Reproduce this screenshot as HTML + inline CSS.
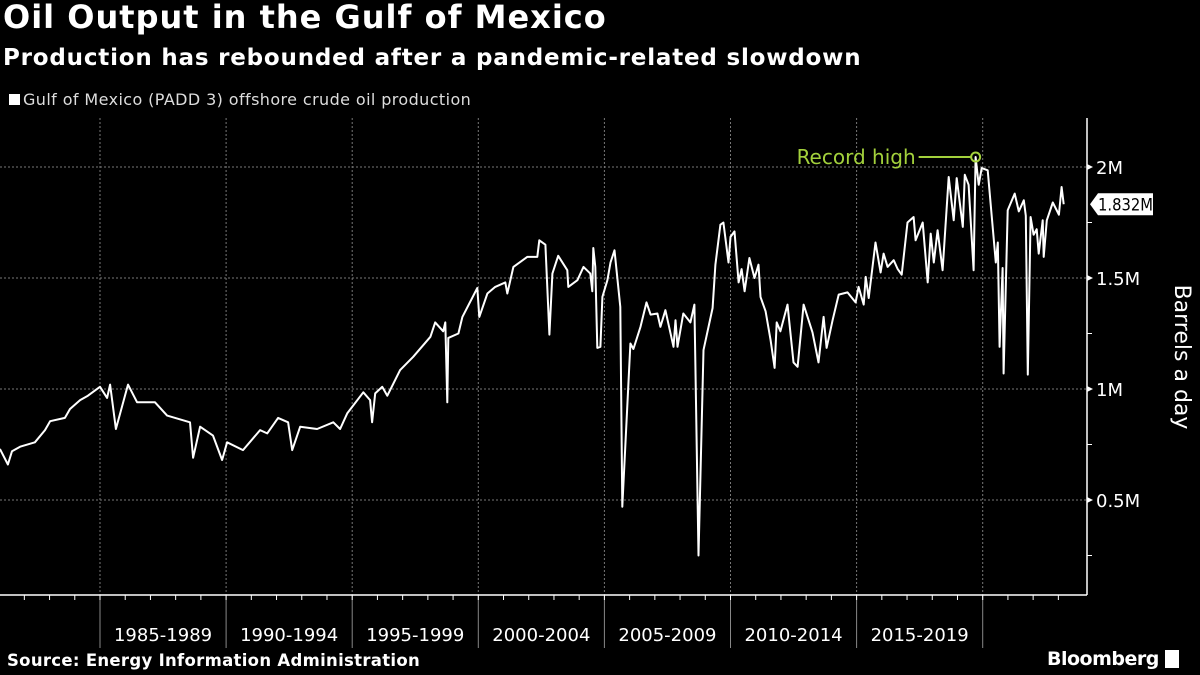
<!DOCTYPE html>
<html><head><meta charset="utf-8"><style>
html,body{margin:0;padding:0;background:#000;}
body{width:1200px;height:675px;overflow:hidden;position:relative;font-family:"DejaVu Sans","Liberation Sans",sans-serif;color:#fff;}
.t{position:absolute;white-space:nowrap;}
</style></head><body>
<div class="t" style="left:3px;top:-2px;font-size:32px;font-weight:bold;letter-spacing:1px;">Oil Output in the Gulf of Mexico</div>
<div class="t" style="left:3px;top:45px;font-size:23px;font-weight:bold;letter-spacing:0.8px;">Production has rebounded after a pandemic-related slowdown</div>
<div class="t" style="left:9px;top:90px;font-size:16px;letter-spacing:0.4px;color:#ddd;"><span style="display:inline-block;width:11px;height:11px;background:#fff;margin-right:3px;"></span>Gulf of Mexico (PADD 3) offshore crude oil production</div>
<div class="t" style="left:7px;top:651px;font-size:16.5px;font-weight:bold;letter-spacing:0.3px;">Source: Energy Information Administration</div>
<div class="t" style="left:1047px;top:648px;font-size:19px;font-weight:bold;letter-spacing:-0.5px;">Bloomberg <span style="display:inline-block;width:14px;height:18px;background:#fff;vertical-align:-3px;"></span></div>
<svg id="chart" width="1200" height="675" style="position:absolute;left:0;top:0;"></svg>
<script>
const years=[1981.03,1981.35,1981.51,1981.83,1982.42,1982.82,1983.02,1983.61,1983.81,1984.21,1984.52,1985.0,1985.28,1985.40,1985.63,1986.11,1986.47,1987.18,1987.66,1988.57,1988.69,1988.97,1989.48,1989.84,1990.04,1990.67,1991.35,1991.63,1992.06,1992.46,1992.62,1992.94,1993.61,1994.25,1994.52,1994.80,1995.44,1995.71,1995.79,1995.91,1996.19,1996.39,1996.90,1997.42,1998.10,1998.29,1998.61,1998.69,1998.77,1998.81,1999.21,1999.37,1999.96,2000.04,2000.36,2000.67,2001.07,2001.15,2001.39,2001.94,2002.34,2002.42,2002.66,2002.82,2002.94,2003.17,2003.53,2003.57,2003.93,2004.17,2004.44,2004.52,2004.56,2004.64,2004.72,2004.84,2004.92,2005.12,2005.24,2005.40,2005.63,2005.71,2006.03,2006.15,2006.43,2006.67,2006.83,2007.10,2007.22,2007.42,2007.74,2007.82,2007.90,2008.13,2008.41,2008.57,2008.73,2008.93,2009.29,2009.40,2009.60,2009.72,2009.92,2010.00,2010.16,2010.32,2010.44,2010.56,2010.75,2010.95,2011.11,2011.19,2011.39,2011.59,2011.75,2011.83,2011.98,2012.26,2012.50,2012.66,2012.90,2013.25,2013.49,2013.69,2013.81,2014.05,2014.29,2014.64,2014.96,2015.08,2015.28,2015.36,2015.48,2015.75,2015.95,2016.07,2016.23,2016.47,2016.63,2016.79,2017.02,2017.26,2017.34,2017.62,2017.82,2017.94,2018.06,2018.21,2018.41,2018.65,2018.85,2018.97,2019.21,2019.29,2019.44,2019.64,2019.72,2019.84,2019.96,2020.20,2020.52,2020.60,2020.67,2020.79,2020.83,2020.99,2021.27,2021.43,2021.63,2021.71,2021.79,2021.90,2022.02,2022.14,2022.22,2022.38,2022.42,2022.54,2022.78,2023.02,2023.13,2023.21];
const production=[0.73,0.66,0.72,0.74,0.76,0.815,0.855,0.87,0.91,0.95,0.97,1.01,0.96,1.02,0.82,1.02,0.94,0.94,0.88,0.85,0.69,0.83,0.79,0.68,0.76,0.725,0.815,0.80,0.87,0.85,0.725,0.83,0.82,0.85,0.82,0.89,0.985,0.95,0.85,0.98,1.01,0.97,1.085,1.145,1.235,1.30,1.26,1.30,0.94,1.23,1.25,1.325,1.455,1.325,1.43,1.46,1.48,1.43,1.55,1.595,1.595,1.67,1.65,1.245,1.52,1.60,1.535,1.46,1.49,1.55,1.52,1.44,1.635,1.55,1.185,1.19,1.415,1.49,1.57,1.625,1.37,0.47,1.205,1.18,1.28,1.39,1.335,1.34,1.28,1.355,1.19,1.31,1.19,1.34,1.30,1.38,0.25,1.175,1.365,1.56,1.74,1.75,1.57,1.685,1.71,1.48,1.54,1.44,1.59,1.50,1.56,1.415,1.35,1.22,1.095,1.30,1.26,1.38,1.12,1.10,1.38,1.255,1.12,1.325,1.185,1.31,1.425,1.435,1.39,1.46,1.38,1.505,1.41,1.66,1.525,1.61,1.55,1.58,1.54,1.515,1.75,1.775,1.67,1.75,1.48,1.70,1.57,1.715,1.535,1.955,1.76,1.95,1.73,1.965,1.92,1.535,2.045,1.92,1.995,1.985,1.57,1.66,1.19,1.545,1.07,1.805,1.88,1.80,1.85,1.78,1.065,1.775,1.695,1.72,1.61,1.76,1.595,1.76,1.84,1.785,1.91,1.832];
const yTicks=[0.5,1,1.5,2];
const yTickLabels=["0.5M","1M","1.5M","2M"];
const periods=["1985-1989","1990-1994","1995-1999","2000-2004","2005-2009","2010-2014","2015-2019"];
const periodStarts=[1985,1990,1995,2000,2005,2010,2015,2020];
const lastLabel="1.832M";
const recordIndex=production.indexOf(Math.max(...production));

const X0=100,Y0year=1985,PX=25.22;
const xs=y=>X0+(y-Y0year)*PX;
const ys=v=>611-v*222;
const svg=document.getElementById('chart');
const NS='http://www.w3.org/2000/svg';
const FONT='DejaVu Sans, Liberation Sans, sans-serif';
function mk(tag,attrs){const e=document.createElementNS(NS,tag);for(const k in attrs)e.setAttribute(k,attrs[k]);svg.appendChild(e);return e;}
const plotTop=118,plotBot=595,axX=1087;
yTicks.forEach((v,i)=>{
  const g=mk('line',{x1:0,x2:axX,y1:ys(v),y2:ys(v),stroke:'#777','stroke-width':1,'stroke-dasharray':'2,2'});
  
  
  const tk=mk('path',{d:`M${axX} ${ys(v)-3}L${axX+6} ${ys(v)}L${axX} ${ys(v)+3}Z`,fill:'#fff'});
  
  
  const t=mk('text',{x:axX+9,y:ys(v)+7,fill:'#fff','font-size':18,'font-family':FONT});
  t.textContent=yTickLabels[i];
  
  
});
[0.25,0.75,1.25,1.75].forEach(v=>{
  const m=mk('line',{x1:axX,x2:axX+5,y1:ys(v),y2:ys(v),stroke:'#fff'});
  
  
});
periodStarts.forEach((p,i)=>{
  const x=xs(p);
  const g=mk('line',{x1:x,x2:x,y1:plotTop,y2:plotBot,stroke:'#777','stroke-width':1,'stroke-dasharray':'2,2'});
  
  
  const s=mk('line',{x1:x,x2:x,y1:plotBot,y2:648,stroke:'#888','stroke-width':1});
  
  
  if(i<periods.length){
    const t=mk('text',{x:(x+xs(periodStarts[i+1]))/2,y:641,fill:'#fff','font-size':18,'text-anchor':'middle','font-family':FONT});
    t.textContent=periods[i];
    
    
  }
});
for(let yr=1981;yr<=2023;yr++){
  const x=xs(yr);
  const tk=mk('line',{x1:x,x2:x,y1:plotBot,y2:plotBot+5,stroke:'#fff'});
  
  
}
const xa=mk('line',{x1:0,x2:axX,y1:plotBot,y2:plotBot,stroke:'#fff','stroke-width':1.5});


const ya=mk('line',{x1:axX,x2:axX,y1:plotTop,y2:plotBot,stroke:'#fff','stroke-width':1.5});


const d=years.map((y,i)=>(i?'L':'M')+xs(y).toFixed(1)+' '+ys(production[i]).toFixed(1)).join('');
const line=mk('path',{d:d,fill:'none',stroke:'#fff','stroke-width':2,'stroke-linejoin':'round'});


const rx=xs(years[recordIndex]),ry=ys(production[recordIndex]);
const al=mk('line',{x1:rx-57,x2:rx-5,y1:ry,y2:ry,stroke:'#a3d13c','stroke-width':2});


const ac=mk('circle',{cx:rx,cy:ry,r:4.5,fill:'none',stroke:'#a3d13c','stroke-width':2});


const at=mk('text',{x:rx-60,y:ry+7,fill:'#a3d13c','font-size':20,'text-anchor':'end','font-family':FONT});
at.textContent='Record high';


const lv=ys(production[production.length-1]);
const lb=mk('path',{d:`M${axX+3} ${lv}L${axX+11} ${lv-11}H1153V${lv+11}H${axX+11}Z`,fill:'#fff'});


const lt=mk('text',{x:axX+11,y:lv+6,fill:'#000','font-size':17,'font-family':FONT,textLength:55,lengthAdjust:'spacingAndGlyphs'});
lt.textContent=lastLabel;


const yt=mk('text',{x:1175,y:357,fill:'#fff','font-size':22,'text-anchor':'middle','font-family':FONT,transform:'rotate(90 1175 357)'});
yt.textContent='Barrels a day';


</script>
</body></html>
